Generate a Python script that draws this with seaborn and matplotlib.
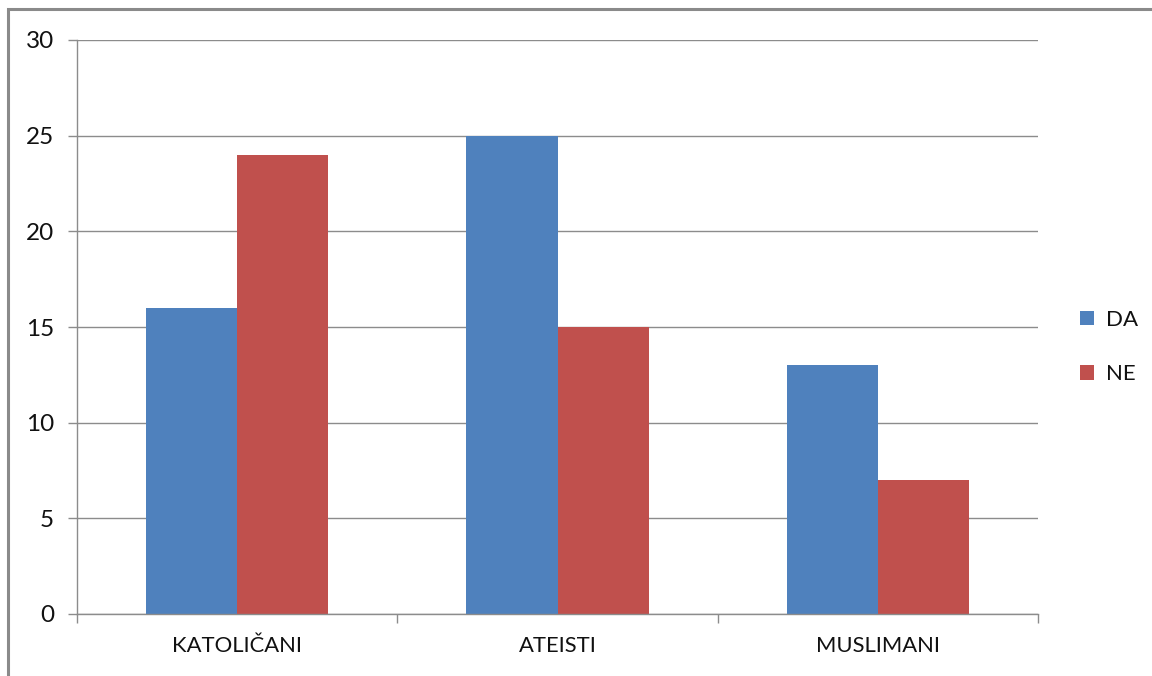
import numpy as np
import pandas as pd
import matplotlib.pyplot as plt
import seaborn as sns
from matplotlib.patches import Rectangle

# data
categories = ['KATOLIČANI', 'ATEISTI', 'MUSLIMANI']
series = ['DA', 'NE']
da_values = [16, 25, 13]
ne_values = [24, 15, 7]
yticks = [0, 5, 10, 15, 20, 25, 30]
colors = ['#4F81BD', '#C0504D']

df = pd.DataFrame({
    'group': categories * 2,
    'answer': [series[0]] * 3 + [series[1]] * 3,
    'count': da_values + ne_values,
})

sns.set_theme(style='white')
plt.rcParams['font.family'] = ['Lato', 'DejaVu Sans']
plt.rcParams['text.color'] = '#111111'

fig = plt.figure(figsize=(11.52, 6.76), dpi=100)
ax = fig.add_axes([77/1152, 1 - 614/676, 961/1152, 574/676])

sns.barplot(data=df, x='group', y='count', hue='answer', order=categories,
            hue_order=series, palette=colors, width=0.57, saturation=1,
            linewidth=0, ax=ax)

ax.set_xlim(-0.5, 2.5)
ax.set_ylim(0, 30)
ax.set_yticks(yticks)
ax.set_xlabel('')
ax.set_ylabel('')
ax.yaxis.grid(True, color='#8c8c8c', lw=1)
ax.set_axisbelow(True)

for s in ['top', 'right']:
    ax.spines[s].set_visible(False)
for s in ['left', 'bottom']:
    ax.spines[s].set_color('#8c8c8c')
    ax.spines[s].set_linewidth(1)

ax.set_xticks([-0.5, 0.5, 1.5, 2.5], minor=True)
ax.tick_params(axis='x', which='major', length=0, pad=16, labelsize=15.8, labelcolor='#111111')
ax.tick_params(axis='x', which='minor', length=6.5, width=1, color='#8c8c8c', direction='out', bottom=True)
ax.tick_params(axis='y', which='major', length=6.5, width=1, color='#8c8c8c', direction='out',
               left=True, pad=10, labelsize=17.5, labelcolor='#111111')

leg = ax.legend(loc='center left', bbox_to_anchor=(1080/1152, 1 - 347/676),
                bbox_transform=fig.transFigure, frameon=False, fontsize=16,
                handlelength=0.65, handleheight=0.65, handletextpad=0.5,
                labelspacing=1.55, borderpad=0, borderaxespad=0)

# chart area border (only left and top visible in the reference)
fig.patches.append(Rectangle((8/1152, -0.05), 1.2, 1 - 9/676 + 0.05,
                             transform=fig.transFigure, fill=False,
                             edgecolor='#8a8a8a', lw=2.2, zorder=10))

fig.savefig('out.png', dpi=100)
